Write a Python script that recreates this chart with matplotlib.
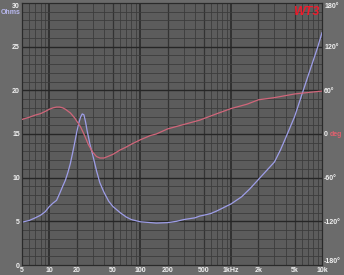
import matplotlib
matplotlib.use("Agg")
import matplotlib.pyplot as plt

plt.rcParams["font.family"] = ["Liberation Sans", "DejaVu Sans"]

# ── data ──
imp_freq = [5, 6, 7, 8, 9, 10, 11, 12, 13, 14, 15, 16, 17, 18, 19, 20, 21, 22, 23, 24,
            25, 26, 27, 28, 30, 33, 36, 40, 45, 50, 60, 70, 80, 100, 150, 200, 250, 300,
            400, 450, 500, 600, 700, 800, 1000, 1300, 1600, 2000, 2500, 3000, 3500, 4000,
            5000, 6000, 7000, 8000, 9000, 10000]
imp_ohm = [4.9, 5.1, 5.4, 5.7, 6.1, 6.7, 7.1, 7.4, 8.2, 9.0, 9.7, 10.6, 11.6, 12.8, 14.0,
           15.2, 16.2, 16.9, 17.3, 17.2, 16.4, 15.4, 14.6, 13.8, 12.6, 10.8, 9.4, 8.3, 7.3,
           6.7, 6.0, 5.5, 5.2, 4.95, 4.8, 4.85, 5.0, 5.2, 5.4, 5.6, 5.7, 5.9, 6.2, 6.5, 7.0,
           7.8, 8.7, 9.8, 10.9, 11.8, 13.2, 14.6, 17.0, 19.5, 21.6, 23.4, 25.0, 26.6]

ph_freq = [5, 6, 7, 8, 9, 10, 11, 12, 13, 14, 15, 17, 19, 22, 24, 27, 30, 33, 36, 40, 50,
           60, 70, 80, 100, 130, 150, 200, 300, 450, 700, 1000, 1500, 2000, 3000, 5000,
           7000, 10000]
ph_deg = [20, 23, 26, 28, 31, 34, 36, 37, 37, 36, 34, 29, 22, 10, 0, -15, -25, -31, -33,
          -33, -28, -22, -18, -14, -8, -2, 0, 7, 13, 19, 28, 35, 41, 47, 50, 55, 57, 59]

x_ticks = [5, 10, 20, 50, 100, 200, 500, 1000, 2000, 5000, 10000]
x_labels = ["5", "10", "20", "50", "100", "200", "500", "1kHz", "2k", "5k", "10k"]
ohm_ticks = [0, 5, 10, 15, 20, 25, 30]
deg_ticks = [-180, -120, -60, 0, 60, 120, 180]
deg_labels = ["-180°", "-120°", "-60°", "0", "60°", "120°", "180°"]

BG = "#6b6b6b"
PLOT_BG = "#5c5c5c"
TXT = "#f0f0f0"
IMP_C = "#9e9ee8"
PH_C = "#d0667a"
FS = 5

fig = plt.figure(figsize=(3.44, 2.75), dpi=100, facecolor=BG)
ax = fig.add_axes([22/344, 10/275, 300/344, 262/275])
ax.set_facecolor(PLOT_BG)
ax.set_xscale("log")
ax.set_xlim(5, 10000)
ax.set_ylim(0, 30)

# grid
for dec in [1, 10, 100, 1000]:
    for m in range(1, 10):
        f = m * dec
        if f <= 5 or f >= 10000:
            continue
        if m == 1:
            ax.axvline(f, color="#262626", lw=1.1, zorder=1)
        elif m in (2, 5):
            ax.axvline(f, color="#333333", lw=0.9, zorder=1)
        else:
            ax.axvline(f, color="#3c3c3c", lw=0.6, zorder=1)
for y in range(1, 30):
    if y % 5 == 0:
        ax.axhline(y, color="#262626", lw=1.0, zorder=1)
    else:
        ax.axhline(y, color="#3c3c3c", lw=0.6, zorder=1)

ax.plot(imp_freq, imp_ohm, color=IMP_C, lw=0.9, zorder=3)

ax2 = ax.twinx()
ax2.set_ylim(-180, 180)
ax2.plot(ph_freq, ph_deg, color=PH_C, lw=0.9, zorder=3)

for a in (ax, ax2):
    for s in a.spines.values():
        s.set_color("#2a2a2a")
        s.set_linewidth(0.8)
    a.tick_params(length=0, colors=TXT, labelsize=FS, pad=2)

ax.xaxis.set_minor_locator(matplotlib.ticker.NullLocator())
ax.set_xticks(x_ticks)
ax.set_xticklabels(x_labels, fontweight="bold")
ax.set_yticks(ohm_ticks)
ax.set_yticklabels([str(t) for t in ohm_ticks], fontweight="bold")
ax2.set_yticks(deg_ticks)
ax2.set_yticklabels(deg_labels, fontweight="bold")
ax2.tick_params(pad=1.5)
ax.tick_params(axis="x", pad=1.5)
ax.tick_params(axis="y", pad=1.5)

# the 30 and -180 labels sit slightly inside like the reference
ax.get_yticklabels()[-1].set_va("top")
ax2.get_yticklabels()[-1].set_va("top")
ax2.get_yticklabels()[0].set_va("bottom")

fig.text(21/344, 1 - 12/275, "Ohms", color="#b8b8f0", fontsize=FS, fontweight="bold",
         ha="right", va="center")
fig.text(330/344, 1 - 134/275, "deg", color="#e0606e", fontsize=FS, fontweight="bold",
         ha="left", va="center")
ax.text(0.99, 0.99, "WT3", transform=ax.transAxes, color="#ee1c2c", fontsize=9,
        fontweight="bold", fontstyle="italic", ha="right", va="top", zorder=5)

fig.savefig("out.png", dpi=100, facecolor=BG)
